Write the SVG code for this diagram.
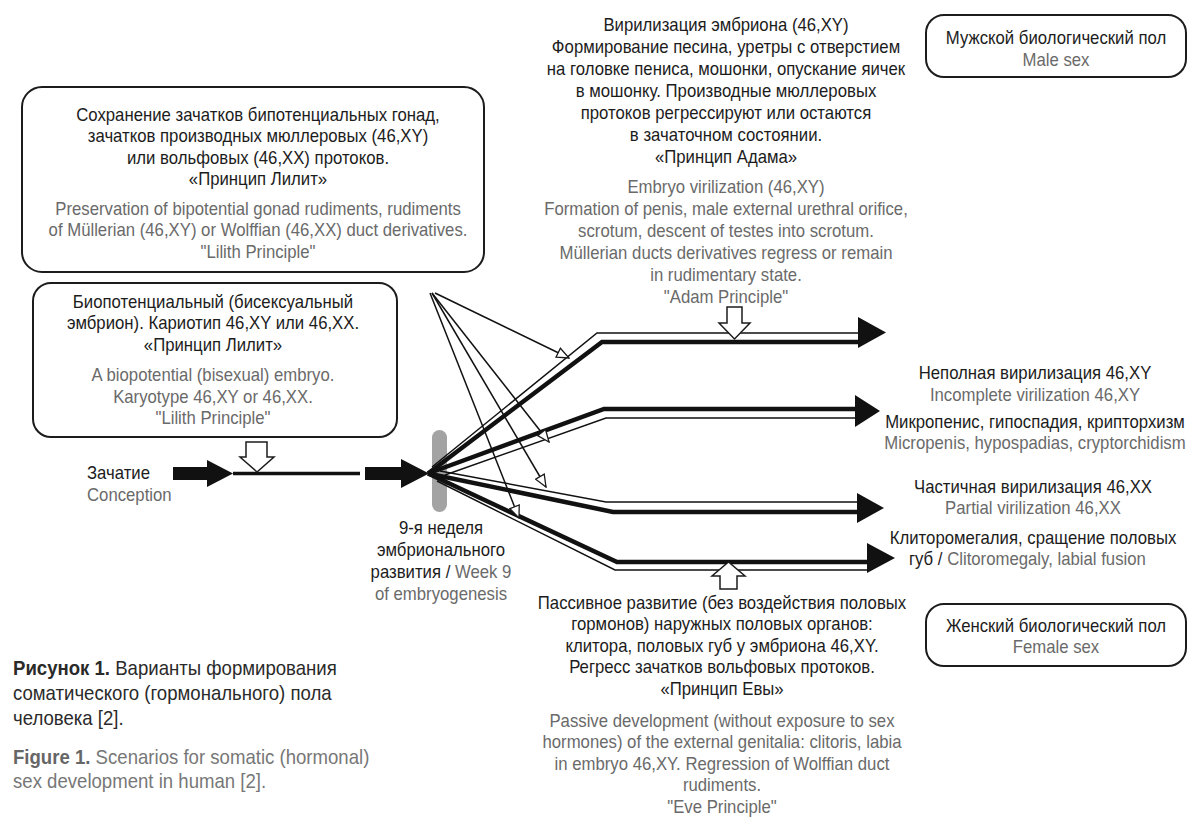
<svg xmlns="http://www.w3.org/2000/svg" width="1200" height="825" viewBox="0 0 1200 825">
<defs>
<style>
text{font-family:"Liberation Sans",Arial,sans-serif;font-size:18px;}
.c{text-anchor:middle;}
.ru{fill:#1c1c1c;}
.en{fill:#6a6a6a;}
.box{fill:#fff;stroke:#1c1c1c;stroke-width:2;}
.thin{fill:none;stroke:#111;stroke-width:1.5;}
.thick{fill:none;stroke:#111;stroke-width:4.5;stroke-linejoin:miter;}
.head{fill:#111;}
.blk{fill:#fff;stroke:#1c1c1c;stroke-width:1.5;stroke-linejoin:miter;}
.cap{font-size:20px;}
.capru{fill:#2a2a2a;}
.capen{fill:#777;}
</style>
<marker id="hollow" viewBox="0 0 14 12" refX="13" refY="6" markerWidth="14" markerHeight="12" markerUnits="userSpaceOnUse" orient="auto">
<path d="M1,1 L13,6 L1,11 Z" fill="#fff" stroke="#1c1c1c" stroke-width="1.3"/>
</marker>
</defs>
<rect width="1200" height="825" fill="#fff"/>

<g id="week9-bar"><rect x="432" y="430" width="15" height="82" rx="7.5" fill="#a3a3a3"/></g>

<g id="connectors">
<!-- conception flow -->
<rect x="173" y="467" width="34" height="13" class="head"/>
<polygon points="207,460 233,473.5 207,487" class="head"/>
<line x1="233" y1="473.5" x2="360" y2="473.5" stroke="#111" stroke-width="3.5"/>
<rect x="365" y="467" width="36" height="13" class="head"/>
<polygon points="401,459 429,473.5 401,488" class="head"/>
<!-- branch 1: male -->
<polyline points="432,467 597,333 860,333" class="thin"/>
<polyline points="428,473.5 602,342 860,342" class="thick"/>
<polygon points="858,317 886,332.5 858,348" class="head"/>
<!-- branch 2: incomplete virilization -->
<polyline points="428,473.5 604,409 856,409" class="thick"/>
<polyline points="445,475 606,418 856,418" class="thin"/>
<polygon points="855,395 880,411 855,427" class="head"/>
<!-- branch 3: partial virilization -->
<polyline points="440,471 606,502 858,502" class="thin"/>
<polyline points="428,473.5 613,512 858,512" class="thick"/>
<polygon points="857,493 884,508 857,523" class="head"/>
<!-- branch 4: female -->
<polyline points="428,473.5 617,562 869,562" class="thick"/>
<polyline points="437,481 615,570 869,570" class="thin"/>
<polygon points="867,543 895,558 867,573" class="head"/>
<!-- thin influence arrows -->
<line x1="435" y1="293" x2="569" y2="358" class="thin" marker-end="url(#hollow)"/>
<line x1="432" y1="293" x2="549" y2="442" class="thin" marker-end="url(#hollow)"/>
<line x1="432" y1="293" x2="546" y2="487" class="thin" marker-end="url(#hollow)"/>
<line x1="430" y1="293" x2="519" y2="518" class="thin" marker-end="url(#hollow)"/>
<!-- block arrows -->
<path d="M246,442 H267 V457 H274 L257,472 L240,457 H246 Z" class="blk"/>
<path d="M727,307 H742 V323 H750 L734.5,339 L719,323 H727 Z" class="blk"/>
<path d="M720,589 H737 V576 H745 L728.5,562 L712,576 H720 Z" class="blk"/>
</g>

<g id="n-preservation">
<rect x="22" y="87" width="462" height="185" rx="20" class="box"/>
<g transform="translate(258 0) scale(0.93 1)">
<text class="c ru" x="0" y="121">Сохранение зачатков бипотенциальных гонад,</text>
<text class="c ru" x="0" y="142.5">зачатков производных мюллеровых (46,XY)</text>
<text class="c ru" x="0" y="164">или вольфовых (46,XX) протоков.</text>
<text class="c ru" x="0" y="185.5">«Принцип Лилит»</text>
<text class="c en" x="0" y="215">Preservation of bipotential gonad rudiments, rudiments</text>
<text class="c en" x="0" y="236.5">of Müllerian (46,XY) or Wolffian (46,XX) duct derivatives.</text>
<text class="c en" x="0" y="258">"Lilith Principle"</text>
</g>
</g>

<g id="n-biopotential">
<rect x="33" y="283" width="364" height="154" rx="18" class="box"/>
<g transform="translate(213 0) scale(0.93 1)">
<text class="c ru" x="0" y="308">Биопотенциальный (бисексуальный</text>
<text class="c ru" x="0" y="329">эмбрион). Кариотип 46,XY или 46,XX.</text>
<text class="c ru" x="0" y="351">«Принцип Лилит»</text>
<text class="c en" x="0" y="381">A biopotential (bisexual) embryo.</text>
<text class="c en" x="0" y="403">Karyotype 46,XY or 46,XX.</text>
<text class="c en" x="0" y="424">"Lilith Principle"</text>
</g>
</g>

<g id="n-conception" transform="translate(87 0) scale(0.93 1)">
<text class="ru" x="0" y="479">Зачатие</text>
<text class="en" x="0" y="501">Conception</text>
</g>

<g id="n-week9" transform="translate(441 0) scale(0.93 1)">
<text class="c ru" x="0" y="534">9-я неделя</text>
<text class="c ru" x="0" y="556">эмбрионального</text>
<text class="c" x="0" y="578"><tspan class="ru">развития / </tspan><tspan class="en">Week 9</tspan></text>
<text class="c en" x="0" y="600">of embryogenesis</text>
</g>

<g id="n-adam" transform="translate(726 0) scale(0.93 1)">
<text class="c ru" x="0" y="31">Вирилизация эмбриона (46,XY)</text>
<text class="c ru" x="0" y="53">Формирование песина, уретры с отверстием</text>
<text class="c ru" x="0" y="75">на головке пениса, мошонки, опускание яичек</text>
<text class="c ru" x="0" y="97">в мошонку. Производные мюллеровых</text>
<text class="c ru" x="0" y="119">протоков регрессируют или остаются</text>
<text class="c ru" x="0" y="141">в зачаточном состоянии.</text>
<text class="c ru" x="0" y="163">«Принцип Адама»</text>
<text class="c en" x="0" y="193">Embryo virilization (46,XY)</text>
<text class="c en" x="0" y="215">Formation of penis, male external urethral orifice,</text>
<text class="c en" x="0" y="237">scrotum, descent of testes into scrotum.</text>
<text class="c en" x="0" y="259">Müllerian ducts derivatives regress or remain</text>
<text class="c en" x="0" y="281">in rudimentary state.</text>
<text class="c en" x="0" y="303">"Adam Principle"</text>
</g>

<g id="n-eve" transform="translate(722 0) scale(0.93 1)">
<text class="c ru" x="0" y="609">Пассивное развитие (без воздействия половых</text>
<text class="c ru" x="0" y="630.5">гормонов) наружных половых органов:</text>
<text class="c ru" x="0" y="652">клитора, половых губ у эмбриона 46,XY.</text>
<text class="c ru" x="0" y="673.5">Регресс зачатков вольфовых протоков.</text>
<text class="c ru" x="0" y="695">«Принцип Евы»</text>
<text class="c en" x="0" y="727">Passive development (without exposure to sex</text>
<text class="c en" x="0" y="748.5">hormones) of the external genitalia: clitoris, labia</text>
<text class="c en" x="0" y="770">in embryo 46,XY. Regression of Wolffian duct</text>
<text class="c en" x="0" y="791.5">rudiments.</text>
<text class="c en" x="0" y="813">"Eve Principle"</text>
</g>

<g id="n-male">
<rect x="926" y="15" width="260" height="62" rx="18" class="box"/>
<g transform="translate(1056 0) scale(0.93 1)">
<text class="c ru" x="0" y="44">Мужской биологический пол</text>
<text class="c en" x="0" y="66">Male sex</text>
</g>
</g>

<g id="n-incomplete" transform="translate(1035 0) scale(0.93 1)">
<text class="c ru" x="0" y="379">Неполная вирилизация 46,XY</text>
<text class="c en" x="0" y="401">Incomplete virilization 46,XY</text>
<text class="c ru" x="0" y="428">Микропенис, гипоспадия, крипторхизм</text>
<text class="c en" x="0" y="449">Micropenis, hypospadias, cryptorchidism</text>
</g>

<g id="n-partial" transform="translate(1033 0) scale(0.93 1)">
<text class="c ru" x="0" y="493">Частичная вирилизация 46,XX</text>
<text class="c en" x="0" y="514">Partial virilization 46,XX</text>
<text class="c ru" x="0" y="544">Клиторомегалия, сращение половых</text>
<text class="c" x="-6" y="565"><tspan class="ru">губ / </tspan><tspan class="en">Clitoromegaly, labial fusion</tspan></text>
</g>

<g id="n-female">
<rect x="926" y="604" width="260" height="62" rx="18" class="box"/>
<g transform="translate(1056 0) scale(0.93 1)">
<text class="c ru" x="0" y="632">Женский биологический пол</text>
<text class="c en" x="0" y="653">Female sex</text>
</g>
</g>

<g id="caption" transform="translate(13 0) scale(0.93 1)">
<text class="cap capru" x="0" y="675"><tspan font-weight="bold">Рисунок 1.</tspan> Варианты формирования</text>
<text class="cap capru" x="0" y="700">соматического (гормонального) пола</text>
<text class="cap capru" x="0" y="725">человека [2].</text>
<text class="cap capen" x="0" y="764"><tspan font-weight="bold" fill="#666">Figure 1.</tspan> Scenarios for somatic (hormonal)</text>
<text class="cap capen" x="0" y="788">sex development in human [2].</text>
</g>
</svg>
